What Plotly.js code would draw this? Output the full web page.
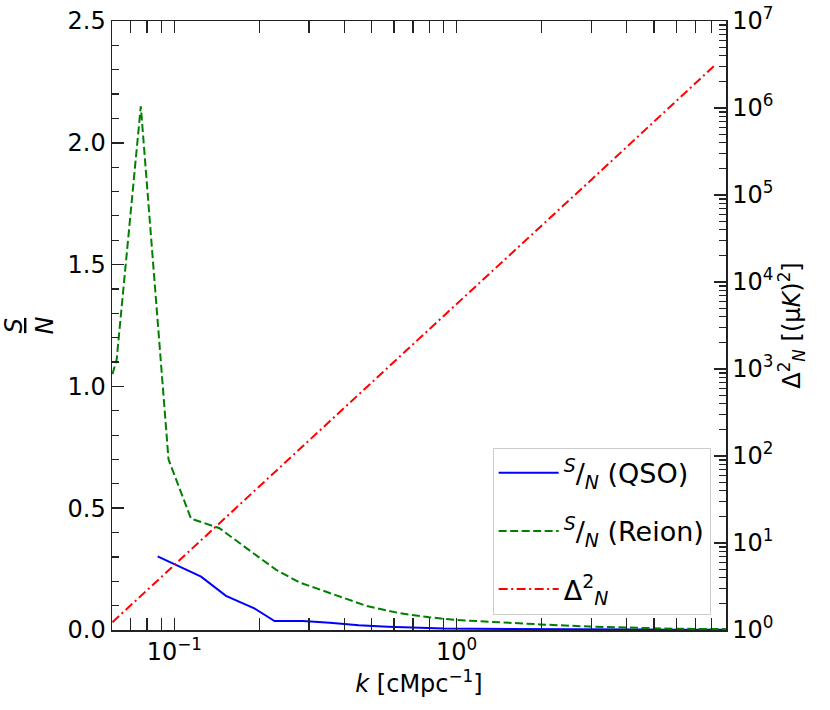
<!DOCTYPE html>
<html>
<head>
<meta charset="utf-8">
<script src="https://cdn.plot.ly/plotly-3.0.1.min.js"></script>
<style>
  html, body { margin: 0; padding: 0; background: white; }
  #plot { width: 830px; height: 710px; }
</style>
</head>
<body>
<div id="plot"></div>
<script>
// values
var kQso = [0.0873, 0.1244, 0.1524, 0.192, 0.2264, 0.285, 0.355, 0.45, 0.57, 0.72, 0.9, 1.15, 1.45, 1.8, 2.3, 2.9, 3.6, 4.5, 5.7, 7.2, 8.97];
var snQso = [0.302, 0.219, 0.140, 0.089, 0.037, 0.037, 0.030, 0.019, 0.013, 0.009, 0.006, 0.005, 0.004, 0.003, 0.003, 0.002, 0.002, 0.002, 0.001, 0.001, 0.001];

var kReion = [0.0604, 0.0625, 0.0761, 0.0954, 0.1146, 0.1445, 0.190, 0.2296, 0.278, 0.40, 0.479, 0.628, 0.80, 1.0, 1.4, 1.97, 2.95, 4.4, 6.0, 8.97];
var snReion = [1.05, 1.11, 2.15, 0.70, 0.457, 0.418, 0.316, 0.247, 0.195, 0.132, 0.099, 0.069, 0.052, 0.041, 0.031, 0.023, 0.014, 0.008, 0.005, 0.004];

var kDelta = [0.0604, 0.1, 0.3, 1, 3, 8.29];
var delta2N = [1.23, 5.6, 150, 5600, 1.5e5, 3.2e6];

var xTickVals = [0.1, 1];
var xTickText = ['10<sup>\u22121</sup>', '10<sup>0</sup>'];
var y2TickVals = [1, 10, 100, 1e3, 1e4, 1e5, 1e6, 1e7];
var y2TickText = ['10<sup>0</sup>', '10<sup>1</sup>', '10<sup>2</sup>', '10<sup>3</sup>',
                  '10<sup>4</sup>', '10<sup>5</sup>', '10<sup>6</sup>', '10<sup>7</sup>'];

// minor tick positions for log axes (2..9 in each decade)
function logMinor(p0, p1) {
    var out = [];
    for (var p = p0; p < p1; p++) {
        for (var m = 2; m <= 9; m++) out.push(m * Math.pow(10, p));
    }
    return out;
}

var font = 'DejaVu Sans, sans-serif';
var axisColor = '#222222';

var plotdata = [
    {
        x: kQso, y: snQso,
        mode: 'lines', type: 'scatter',
        line: {color: '#0000ff', width: 2},
        name: '<sup><i>S</i></sup>/<sub><i>N</i></sub> (QSO)',
        legendgroup: 'a',
        yaxis: 'y'
    },
    {
        x: kReion, y: snReion,
        mode: 'lines', type: 'scatter',
        line: {color: '#008000', width: 2, dash: '8px,3.5px'},
        name: '<sup><i>S</i></sup>/<sub><i>N</i></sub> (Reion)',
        legendgroup: 'b',
        yaxis: 'y'
    },
    {
        x: kDelta, y: delta2N,
        mode: 'lines', type: 'scatter',
        line: {color: '#ff0000', width: 2, dash: '9px,3.5px,2px,3.5px'},
        name: '\u0394<sup>2</sup><sub><i>N</i></sub>',
        legendgroup: 'c',
        yaxis: 'y2'
    }
];

var layout = {
    width: 830,
    height: 710,
    margin: {l: 112, r: 104, t: 21, b: 80},
    paper_bgcolor: 'white',
    plot_bgcolor: 'white',
    font: {family: font, size: 24, color: 'black'},
    showlegend: true,
    xaxis: {
        type: 'log',
        range: [-1.2206, 0.9536],
        tickmode: 'array',
        tickvals: xTickVals,
        ticktext: xTickText,
        ticks: 'inside',
        ticklen: 12,
        tickwidth: 1.5,
        tickcolor: axisColor,
        minor: {tickmode: 'array', tickvals: logMinor(-2, 1), ticks: 'inside', ticklen: 7, tickwidth: 1.2, tickcolor: axisColor, showgrid: false},
        showline: true,
        linecolor: axisColor,
        linewidth: 1.5,
        mirror: 'allticks',
        showgrid: false,
        zeroline: false,
        tickfont: {size: 24},
        title: {text: '<i>k</i> [cMpc<sup>\u22121</sup>]', font: {size: 24}, standoff: 8}
    },
    yaxis: {
        range: [0, 2.5],
        dtick: 0.5,
        tickformat: '.1f',
        ticks: 'inside',
        ticklen: 12,
        tickwidth: 1.5,
        tickcolor: axisColor,
        minor: {dtick: 0.1, ticks: 'inside', ticklen: 7, tickwidth: 1.2, tickcolor: axisColor, showgrid: false},
        showline: true,
        linecolor: axisColor,
        linewidth: 1.5,
        showgrid: false,
        zeroline: false,
        tickfont: {size: 24},
        title: {text: '<u><i>S</i></u><br><i>N</i>', font: {size: 24}, standoff: 8}
    },
    yaxis2: {
        type: 'log',
        overlaying: 'y',
        side: 'right',
        range: [0, 7],
        tickmode: 'array',
        tickvals: y2TickVals,
        ticktext: y2TickText,
        ticks: 'inside',
        ticklen: 12,
        tickwidth: 1.5,
        tickcolor: axisColor,
        minor: {tickmode: 'array', tickvals: logMinor(0, 7), ticks: 'inside', ticklen: 7, tickwidth: 1.2, tickcolor: axisColor, showgrid: false},
        showline: true,
        linecolor: axisColor,
        linewidth: 1.5,
        showgrid: false,
        zeroline: false,
        tickfont: {size: 24},
        title: {text: '\u0394<sup>2</sup><sub><i>N</i></sub> [(\u03bc<i>K</i>)<sup>2</sup>]', font: {size: 24}, standoff: 8}
    },
    legend: {
        x: 0.975,
        y: 0.025,
        xanchor: 'right',
        yanchor: 'bottom',
        bgcolor: 'rgba(255,255,255,0.85)',
        bordercolor: '#cccccc',
        borderwidth: 1,
        font: {family: font, size: 27, color: 'black'},
        traceorder: 'grouped',
        tracegroupgap: 20,
        itemwidth: 60
    }
};

Plotly.newPlot(document.getElementById('plot'), plotdata, layout, {staticPlot: true});
</script>
</body>
</html>
